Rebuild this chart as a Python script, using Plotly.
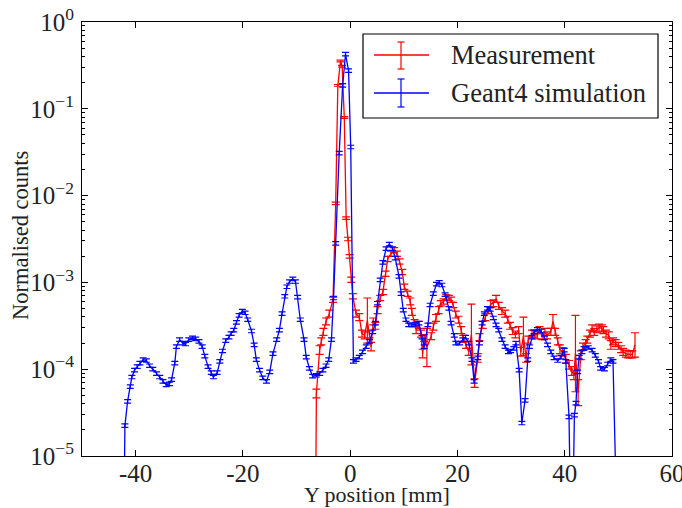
import plotly.graph_objects as go

# ---------------- data ----------------
blue_x = [
    -42.3, -42.0, -41.5, -41.0, -40.7, -40.2, -39.7, -39.2, -38.6, -38.0,
    -37.4, -36.8, -36.1, -35.5, -34.9, -34.3, -33.7, -33.3, -32.7, -32.4,
    -31.8, -31.2, -30.7, -30.1, -29.4, -28.8, -28.2, -27.6, -27.1, -26.5,
    -25.9, -25.5, -24.8, -24.3, -23.8, -23.2, -22.6, -22.2, -21.7, -21.2,
    -20.7, -20.1, -19.6, -19.1, -18.4, -17.9, -17.5, -16.9, -16.3, -15.6,
    -15.0, -14.4, -13.7, -13.2, -12.7, -12.2, -11.8, -11.3, -10.7, -10.2,
    -9.8, -9.3, -8.6, -8.2, -7.6, -7.0, -6.3, -5.7, -5.1, -4.5,
    -4.0, -3.5, -3.1, -2.7, -2.05, -1.4, -0.87, -0.3, 0.1, 0.6,
    1.1, 1.7, 2.3, 3.0, 3.6, 4.2, 4.7, 5.1, 5.6, 6.1,
    6.7, 7.3, 7.9, 8.4, 9.1, 9.5, 9.9, 10.4, 10.9, 11.5,
    12.2, 12.8, 13.4, 13.8, 14.5, 14.9, 15.5, 16.1, 16.6, 17.1,
    17.7, 18.4, 18.8, 19.4, 19.7, 20.4, 21.0, 21.5, 22.1, 22.7,
    23.1, 23.8, 24.1, 24.6, 25.0, 25.6, 26.1, 26.7, 27.2, 27.7,
    28.3, 28.9, 29.5, 29.9, 30.5, 30.9, 31.5, 32.0, 32.6, 33.1,
    33.4, 33.9, 34.3, 34.9, 35.6, 36.2, 36.8, 37.4, 38.0, 38.7,
    39.3, 39.9, 40.2, 40.8, 41.3, 41.8, 42.1, 42.4, 42.7, 43.2,
    43.6, 44.4, 45.1, 45.7, 46.3, 46.7, 47.4, 48.0, 48.6, 49.0,
    50.0,
]
blue_log10 = [
    -6.5, -4.65, -4.37, -4.20, -4.09, -4.01, -3.97, -3.93, -3.89, -3.90,
    -3.96, -4.00, -4.05, -4.09, -4.14, -4.18, -4.17, -4.12, -3.93, -3.74,
    -3.66, -3.70, -3.71, -3.66, -3.64, -3.65, -3.68, -3.74, -3.85, -3.97,
    -4.04, -4.09, -4.04, -3.91, -3.79, -3.67, -3.63, -3.59, -3.55, -3.46,
    -3.38, -3.33, -3.35, -3.43, -3.56, -3.72, -3.89, -4.01, -4.10, -4.14,
    -4.03, -3.82, -3.66, -3.55, -3.36, -3.16, -3.05, -2.99, -2.96, -2.99,
    -3.17, -3.43, -3.66, -3.86, -3.99, -4.08, -4.07, -4.05, -4.01, -3.96,
    -3.89, -3.66, -3.18, -2.55, -1.51, -0.73, -0.37, -0.56, -1.44, -3.91,
    -3.89, -3.86, -3.80, -3.74, -3.68, -3.57, -3.47, -3.24, -2.97, -2.77,
    -2.61, -2.56, -2.61, -2.72, -2.93, -3.13, -3.32, -3.43, -3.49, -3.49,
    -3.48, -3.47, -3.63, -3.74, -3.49, -3.26, -3.13, -3.02, -3.00, -3.03,
    -3.14, -3.30, -3.47, -3.61, -3.70, -3.70, -3.66, -3.63, -3.70, -3.89,
    -4.14, -3.87, -3.70, -3.47, -3.36, -3.30, -3.31, -3.41, -3.49, -3.55,
    -3.66, -3.74, -3.80, -3.79, -3.76, -3.70, -4.01, -4.62, -4.36, -3.89,
    -3.74, -3.63, -3.57, -3.54, -3.56, -3.64, -3.72, -3.80, -3.87, -3.90,
    -3.86, -3.78, -3.91, -4.55, -6.5, -4.53, -4.39, -4.03, -3.86, -3.80,
    -3.76, -3.75, -3.78, -3.84, -3.91, -3.99, -4.00, -3.94, -3.89, -3.91,
    -6.5,
]
blue_err_dex = 0.02  # half-height of the simulation error bars, in decades

red_x = [
    -6.8, -6.3, -5.7, -5.4, -5.0, -4.5, -3.9, -3.2, -2.7, -2.3,
    -1.8, -1.5, -1.1, -0.75, -0.4, -0.1, 0.2, 0.5, 1.1, 1.7,
    2.2, 2.7, 3.2, 3.6, 3.9, 4.3, 4.7, 5.1, 5.6, 6.1,
    6.6, 7.0, 7.6, 8.2, 8.7, 9.2, 9.7, 10.1, 10.7, 11.2,
    11.5, 12.0, 12.3, 12.8, 13.2, 13.5, 13.8, 14.3, 15.1, 15.5,
    16.0, 16.5, 16.9, 17.4, 17.9, 18.4, 18.8, 19.2, 19.7, 20.2,
    20.7, 21.1, 21.6, 22.1, 22.6, 23.2, 23.8, 24.1, 24.7, 25.2,
    25.8, 26.2, 26.7, 27.2, 27.7, 28.3, 28.9, 29.4, 29.8, 30.3,
    30.8, 31.4, 31.8, 32.3, 32.8, 33.2, 33.9, 34.3, 34.9, 35.3,
    35.8, 36.3, 36.7, 37.4, 37.8, 38.2, 38.7, 39.1, 39.6, 40.2,
    40.8, 41.3, 41.7, 42.0, 42.5, 43.0, 43.4, 43.9, 44.2, 44.7,
    45.1, 45.5, 46.0, 46.4, 46.9, 47.2, 47.7, 48.2, 48.6, 49.0,
    49.5, 50.0, 50.5, 50.9, 51.4, 51.8, 52.2, 52.6, 53.1,
]
red_log10 = [
    -9.0, -4.28, -3.78, -3.68, -3.57, -3.45, -3.36, -3.20, -2.09, -0.73,
    -0.45, -0.51, -1.10, -2.26, -2.50, -2.70, -2.97, -3.16, -3.36, -3.40,
    -3.59, -3.61, -3.44, -3.60, -3.74, -3.45, -3.50, -3.32, -3.18, -3.11,
    -2.90, -2.73, -2.67, -2.63, -2.67, -2.76, -2.88, -3.05, -3.13, -3.22,
    -3.34, -3.47, -3.55, -3.49, -3.59, -3.82, -3.64, -3.75, -3.62, -3.51,
    -3.41, -3.32, -3.24, -3.22, -3.17, -3.18, -3.20, -3.26, -3.37, -3.43,
    -3.55, -3.65, -3.72, -3.80, -3.60, -4.16, -3.87, -3.63, -3.49, -3.40,
    -3.32, -3.25, -3.24, -3.19, -3.27, -3.33, -3.36, -3.43, -3.50, -3.56,
    -3.60, -3.55, -3.80, -3.62, -3.87, -3.66, -3.59, -3.59, -3.61, -3.55,
    -3.62, -3.57, -3.61, -3.57, -3.45, -3.57, -3.68, -3.77, -3.80, -3.88,
    -3.95, -4.02, -4.07, -3.82, -4.27, -3.84, -3.74, -3.70, -3.66, -3.59,
    -3.53, -3.57, -3.54, -3.52, -3.53, -3.55, -3.59, -3.61, -3.72, -3.68,
    -3.70, -3.73, -3.77, -3.80, -3.82, -3.83, -3.83, -3.83, -3.72,
]
red_err_dex = [
    0.05, 0.05, 0.05, 0.04, 0.04, 0.04, 0.04, 0.03, 0.015, 0.01,
    0.01, 0.01, 0.01, 0.015, 0.02, 0.02, 0.03, 0.03, 0.04, 0.04,
    0.04, 0.04, 0.26, 0.04, 0.05, 0.04, 0.04, 0.04, 0.03, 0.03,
    0.03, 0.03, 0.03, 0.03, 0.03, 0.03, 0.03, 0.03, 0.03, 0.04,
    0.04, 0.04, 0.04, 0.04, 0.04, 0.05, 0.04, 0.22, 0.04, 0.04,
    0.04, 0.04, 0.03, 0.03, 0.03, 0.03, 0.03, 0.03, 0.04, 0.04,
    0.04, 0.04, 0.04, 0.04, 0.35, 0.05, 0.05, 0.04, 0.04, 0.04,
    0.04, 0.04, 0.04, 0.04, 0.04, 0.04, 0.04, 0.04, 0.04, 0.04,
    0.04, 0.04, 0.05, 0.22, 0.05, 0.04, 0.04, 0.04, 0.04, 0.04,
    0.04, 0.04, 0.04, 0.04, 0.08, 0.04, 0.04, 0.05, 0.05, 0.05,
    0.05, 0.05, 0.05, 0.44, 0.15, 0.05, 0.04, 0.04, 0.04, 0.04,
    0.04, 0.04, 0.04, 0.04, 0.04, 0.04, 0.04, 0.04, 0.05, 0.04,
    0.04, 0.04, 0.04, 0.04, 0.04, 0.04, 0.04, 0.04, 0.14,
]

y_tick_vals = [1e-5, 1e-4, 1e-3, 1e-2, 1e-1, 1e0]
y_tick_text = ["10<sup>−5</sup>", "10<sup>−4</sup>", "10<sup>−3</sup>",
               "10<sup>−2</sup>", "10<sup>−1</sup>", "10<sup>0</sup>"]
x_tick_vals = [-40, -20, 0, 20, 40, 60]
x_tick_text = ["-40", "-20", "0", "20", "40", "60"]
series_names = ["Measurement", "Geant4 simulation"]
x_title = "Y position [mm]"
y_title = "Normalised counts"

# ---------------- derived values ----------------
red_y = [10 ** v for v in red_log10]
blue_y = [10 ** v for v in blue_log10]
red_up = [y * (10 ** d - 1) for y, d in zip(red_y, red_err_dex)]
red_dn = [y * (1 - 10 ** -d) for y, d in zip(red_y, red_err_dex)]
blue_up = [y * (10 ** blue_err_dex - 1) for y in blue_y]
blue_dn = [y * (1 - 10 ** -blue_err_dex) for y in blue_y]

minor_vals = [m * 10 ** e for e in range(-5, 0) for m in range(2, 10)]

FONT = "Liberation Serif"
TXT = "#222222"
RED = "#ff0000"
BLUE = "#0000ff"

fig = go.Figure()
fig.add_trace(go.Scatter(
    x=red_x, y=red_y, mode="lines", name=series_names[0],
    line=dict(color=RED, width=1.3),
    error_y=dict(type="data", symmetric=False, array=red_up, arrayminus=red_dn,
                 color=RED, thickness=1.2, width=4),
    showlegend=False,
))
fig.add_trace(go.Scatter(
    x=blue_x, y=blue_y, mode="lines", name=series_names[1],
    line=dict(color=BLUE, width=1.3),
    error_y=dict(type="data", symmetric=False, array=blue_up, arrayminus=blue_dn,
                 color=BLUE, thickness=1.2, width=3.5),
    showlegend=False,
))

axis_common = dict(
    showline=True, linecolor="black", linewidth=1.2, mirror="allticks",
    ticks="inside", tickcolor="black", showgrid=False, zeroline=False,
    ticklabeloverflow="allow",
)
fig.update_xaxes(
    range=[-50, 60], tickmode="array", tickvals=x_tick_vals, ticktext=x_tick_text,
    ticklen=6, tickwidth=1, ticklabelstandoff=-5,
    tickfont=dict(family=FONT, size=25, color=TXT),
    **axis_common,
)
fig.update_yaxes(
    type="log", range=[-5, 0], tickmode="array", tickvals=y_tick_vals,
    ticktext=y_tick_text, ticklen=6, tickwidth=1, ticklabelstandoff=2,
    tickfont=dict(family=FONT, size=25, color=TXT),
    minor=dict(ticks="inside", ticklen=3, tickcolor="black", tickmode="array",
               tickvals=minor_vals, showgrid=False),
    **axis_common,
)

# ---------------- pixel helpers for layout-only elements ----------------
W, H, L, T = 590.0, 434.0, 82.0, 22.0
def px(xp):
    return (xp - L) / W
def py(yp):
    return 1 - (yp - T) / H

annotations = [
    dict(xref="paper", yref="paper", x=px(377), y=py(494), text=x_title,
         showarrow=False, xanchor="center", yanchor="middle", borderpad=0,
         font=dict(family=FONT, size=22, color=TXT)),
    dict(xref="paper", yref="paper", x=px(20), y=py(236), text=y_title,
         showarrow=False, xanchor="center", yanchor="middle", textangle=-90,
         font=dict(family=FONT, size=22.5, color=TXT)),
]

# hand-drawn legend (line + error-bar glyph)
shapes = [dict(type="rect", xref="paper", yref="paper",
               x0=px(363), x1=px(658), y0=py(118), y1=py(34),
               line=dict(color="black", width=1.2), fillcolor="white", layer="above")]
for name, col, yc, ytop, ybot in [(series_names[0], RED, 55, 42, 69),
                                  (series_names[1], BLUE, 93, 79, 107)]:
    shapes.append(dict(type="line", xref="paper", yref="paper",
                       x0=px(374), x1=px(429), y0=py(yc), y1=py(yc),
                       line=dict(color=col, width=1.3), layer="above"))
    shapes.append(dict(type="line", xref="paper", yref="paper",
                       x0=px(401), x1=px(401), y0=py(ytop), y1=py(ybot),
                       line=dict(color=col, width=1.2), layer="above"))
    for yy in (ytop, ybot):
        shapes.append(dict(type="line", xref="paper", yref="paper",
                           x0=px(397.5), x1=px(404.5), y0=py(yy), y1=py(yy),
                           line=dict(color=col, width=1.2), layer="above"))
    annotations.append(dict(xref="paper", yref="paper", x=px(449), y=py(yc),
                            text=name, showarrow=False, xanchor="left",
                            yanchor="middle",
                            font=dict(family=FONT, size=26.5, color=TXT)))

fig.update_layout(
    width=682, height=508,
    margin=dict(l=82, r=10, t=22, b=52, autoexpand=False),
    paper_bgcolor="white", plot_bgcolor="white",
    shapes=shapes, annotations=annotations,
    showlegend=False,
)

fig.write_html("out.html",
               config={"displayModeBar": False},
               post_script="document.body.style.margin='0px';"
                           "document.body.style.overflow='hidden';")
